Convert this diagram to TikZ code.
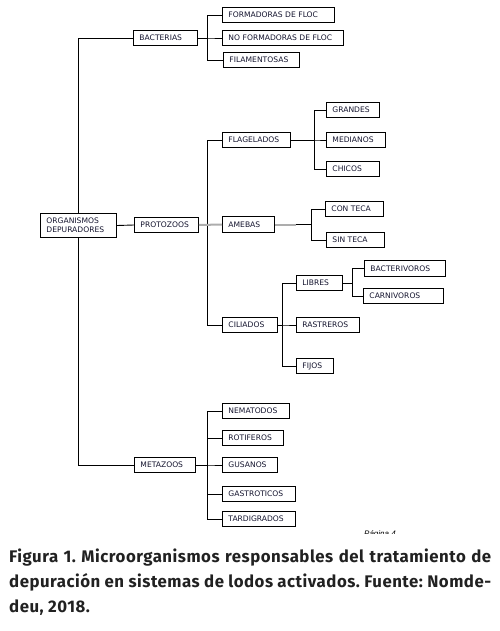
\documentclass[tikz,border=0pt]{standalone}
\usepackage{fontspec}
\newfontfamily\boxfont{DejaVu Sans}
\newfontfamily\capfont{Fira Sans}[LetterSpace=3]
\newfontfamily\pagefont{Liberation Sans}
\usepackage{xcolor}
\usepackage{tikz}
\usetikzlibrary{positioning,calc}
\definecolor{boxtext}{rgb}{0.08,0.08,0.18}
\definecolor{capgray}{rgb}{0.13,0.13,0.13}
\definecolor{linkgray}{rgb}{0.68,0.68,0.68}
\tikzset{
  box/.style={draw, line width=0.9pt, anchor=west, inner xsep=6pt, inner ysep=0pt,
    minimum height=15.5pt, text width=#1, align=left, text=boxtext,
    font=\boxfont\fontsize{7.6}{9.2}\selectfont},
  link/.style={line width=0.9pt},
  graylink/.style={line width=2pt, linkgray}
}

\begin{document}
\frenchspacing
\begin{tikzpicture}[x=1pt, y=-1pt]
    \useasboundingbox (0,0) rectangle (499,631);

    % root and main groups
    \node[box=64pt, minimum height=24.5pt] (org) at (40,225.5) {ORGANISMOS\\DEPURADORES};
    \node[box=52pt] (bact) at (133,38) {BACTERIAS};
    \node[box=52pt] (proto) at (134,225) {PROTOZOOS};
    \node[box=49pt] (meta) at (134,465) {METAZOOS};

    % bacterias
    \node[box=100pt] (floc1) at (222,15) {FORMADORAS DE FLOC};
    \node[box=109pt] (floc2) at (222,38) {NO FORMADORAS DE FLOC};
    \node[box=64pt] (fila) at (223,60) {FILAMENTOSAS};

    % protozoos
    \node[box=56pt] (flag) at (222,140) {FLAGELADOS};
    \node[box=41pt] (grandes) at (326,110) {GRANDES};
    \node[box=47pt] (medianos) at (326,140) {MEDIANOS};
    \node[box=41pt] (chicos) at (326,169) {CHICOS};

    \node[box=40pt] (ameb) at (222,224.5) {AMEBAS};
    \node[box=46pt] (conteca) at (325,209) {CON TECA};
    \node[box=46pt] (sinteca) at (326,240) {SIN TECA};

    \node[box=43pt] (cil) at (222,325) {CILIADOS};
    \node[box=34pt] (libres) at (296,283) {LIBRES};
    \node[box=51pt] (rastreros) at (296,325) {RASTREROS};
    \node[box=25pt] (fijos) at (296,366) {FIJOS};
    \node[box=69pt] (bacteriv) at (364,268.5) {BACTERIVOROS};
    \node[box=68pt] (carniv) at (363,296) {CARNIVOROS};

    % metazoos
    \node[box=55pt] (nemat) at (222,411) {NEMATODOS};
    \node[box=49pt] (rotif) at (222,438) {ROTIFEROS};
    \node[box=43pt] (gusanos) at (222,465) {GUSANOS};
    \node[box=61pt] (gastro) at (222,494) {GASTROTICOS};
    \node[box=61pt] (tardi) at (222,519) {TARDIGRADOS};

    % connectors
    \draw[link] (org.north) |- (bact.west);
    \draw[link] (org.south) |- (meta.west);
    \draw[link] (org.east) -- (proto.west);
    \foreach \n in {floc1,floc2,fila}
      \draw[link] (bact.east) -- ++(10,0) |- (\n.west);
    \draw[link] (flag.west) -- ++(-15,0) |- (cil.west);
    \foreach \n in {grandes,medianos,chicos}
      \draw[link] (flag.east) -- ++(24,0) |- (\n.west);
    \draw[graylink] (proto.east) -- (ameb.west);
    \draw[graylink] (ameb.east) -- ++(21,0) coordinate (amebB);
    \draw[link] (amebB) -- ++(16,0) coordinate (amebC);
    \foreach \n in {conteca,sinteca}
      \draw[link] (amebC) |- (\n.west);
    \foreach \n in {libres,rastreros,fijos}
      \draw[link] (cil.east) -- ++(5,0) |- (\n.west);
    \foreach \n in {bacteriv,carniv}
      \draw[link] (libres.east) -- ++(10,0) |- (\n.west);
    \foreach \n in {nemat,rotif,gusanos,gastro,tardi}
      \draw[link] (meta.east) -- ++(12,0) |- (\n.west);

    % page mark, cut off
    \begin{scope}
      \clip (355,526) rectangle (415,533.5);
      \node[anchor=north west, inner sep=0pt, font=\pagefont\itshape\fontsize{8}{9}\selectfont] (pag) at (364,530.5) {Página 4};
    \end{scope}

    % caption
    \node[anchor=north west, inner sep=0pt, text width=482pt, align=justify, text=capgray,
      font=\capfont\bfseries\fontsize{16.8}{24.6}\selectfont] (cap) at (9,549)
      {Figura 1. Microorganismos responsables del tratamiento de depuración en sistemas de lodos activados. Fuente: Nomde-\linebreak deu, 2018.};
\end{tikzpicture}
\end{document}
